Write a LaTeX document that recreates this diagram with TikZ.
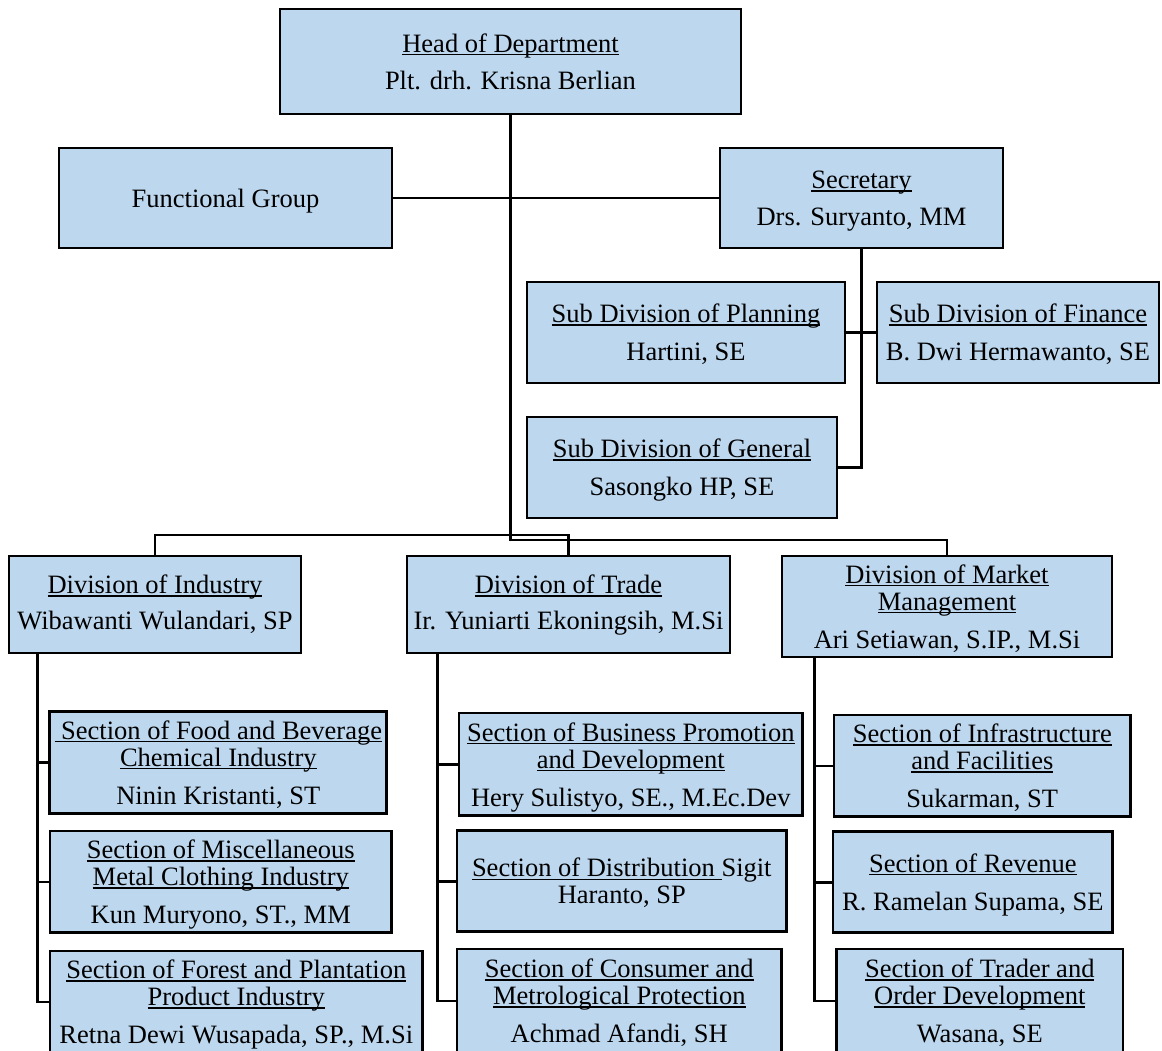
\documentclass[tikz,border=0pt]{standalone}
\usepackage{fontspec}
\setmainfont{Liberation Serif}
\newsavebox\ulbox
\newcommand\myul[1]{\sbox\ulbox{#1}\rlap{\rule[-3pt]{\wd\ulbox}{1.3pt}}\usebox\ulbox}
\newcommand\mystrut{\rule{0pt}{25pt}}
\newcommand\mydeep{\rule[-11pt]{0pt}{0pt}}
\definecolor{boxblue}{HTML}{BDD7EE}
\begin{document}
\begin{tikzpicture}[x=1pt,y=-1pt,
  box/.style={draw=black, line width=2.8pt, fill=boxblue, align=center, inner sep=1pt,
              font=\fontsize{26.5}{27}\selectfont,
              execute at end node={\rule[-6.5pt]{0pt}{0pt}}},
  sz/.style 2 args={minimum width=#1pt, minimum height=#2pt},
  link/.style={draw=black, line width=2.6pt}]
\useasboundingbox (0,0) rectangle (1162,1050);
\begin{scope}
\clip (0,0) rectangle (1162,1050);
% top level
\node[box, sz={461}{105}] (head) at (510.5,61.5) {\mystrut\myul{Head of Department}\\[10pt] Plt. drh. Krisna Berlian};
\node[box, sz={333}{100}] (fg) at (225.5,198) {\mystrut Functional Group};
\node[box, sz={283}{100}] (sec) at (861.5,198) {\mystrut\myul{Secretary}\\[10pt] Drs. Suryanto, MM};
% sub divisions
\node[box, sz={318}{101}] (plan) at (686,332.5) {\mystrut\myul{Sub Division of Planning}\\[11pt] Hartini, SE};
\node[box, sz={282}{101}] (fin) at (1018,332.5) {\mystrut\myul{Sub Division of Finance}\\[11pt] B. Dwi Hermawanto, SE};
\node[box, sz={310}{101}] (gen) at (682,467.5) {\mystrut\myul{Sub Division of General}\\[11pt] Sasongko HP, SE};
% divisions
\node[box, sz={292}{97}] (ind) at (155,604.5) {\mystrut\myul{Division of Industry}\\[9pt] Wibawanti Wulandari, SP\mydeep};
\node[box, sz={323}{97}] (trade) at (568.5,604.5) {\mystrut\myul{Division of Trade}\\[9pt] Ir. Yuniarti Ekoningsih, M.Si\mydeep};
\node[box, sz={330}{101}] (mkt) at (947,606.5) {\mystrut\myul{Division of Market}\\ \myul{Management}\\[11pt] Ari Setiawan, S.IP., M.Si};
% sections of industry
\node[box, sz={337}{101.6}] (food) at (218.3,762.5) {\mystrut\myul{\ Section of Food and Beverage}\\ \myul{Chemical Industry}\\[11pt] Ninin Kristanti, ST};
\node[box, sz={341.7}{101.7}] (misc) at (220.8,881.8) {\mystrut\myul{Section of Miscellaneous}\\ \myul{Metal Clothing Industry}\\[11pt] Kun Muryono, ST., MM};
\node[box, sz={372.7}{102}] (forest) at (236.3,1002) {\mystrut\myul{Section of Forest and Plantation}\\ \myul{Product Industry}\\[11pt] Retna Dewi Wusapada, SP., M.Si};
% sections of trade
\node[box, sz={343.7}{102.7}] (bus) at (630.8,764.3) {\mystrut\myul{Section of Business Promotion}\\ \myul{and Development}\\[11pt] Hery Sulistyo, SE., M.Ec.Dev};
\node[box, sz={329.7}{101}] (dist) at (621.8,881.2) {\mystrut\myul{Section of Distribution\ }Sigit\\ Haranto, SP};
\node[box, sz={324.7}{104}] (cons) at (619.3,1001) {\mystrut\myul{Section of Consumer and}\\ \myul{Metrological Protection}\\[11pt] Achmad Afandi, SH};
% sections of market management
\node[box, sz={296.7}{101.7}] (infra) at (982.3,765.8) {\mystrut\myul{Section of Infrastructure}\\ \myul{and Facilities}\\[11pt] Sukarman, ST};
\node[box, sz={279.7}{101}] (rev) at (972.8,882.2) {\mystrut\myul{Section of Revenue}\\[11pt] R. Ramelan Supama, SE};
\node[box, sz={286.3}{104}] (trader) at (979.8,1001) {\mystrut\myul{Section of Trader and}\\ \myul{Order Development}\\[11pt] Wasana, SE};
% junction coordinates
\coordinate (hj) at (head.south |- 0,540);
\coordinate (dj) at (ind.north |- 0,535);
\coordinate (indbus) at ([xshift=30pt]ind.south west);
\coordinate (trbus) at ([xshift=32pt]trade.south west);
\coordinate (mkbus) at ([xshift=34pt]mkt.south west);
% connectors
\draw[link] (head.south) -- (hj) -| (mkt.north);
\draw[link] (ind.north) -- (dj) -| (trade.north);
\draw[link] (fg.east) -- (sec.west);
\draw[link] (sec.south) |- (gen.east);
\draw[link] (plan.east) -- (fin.west);
\draw[link] (indbus) |- (food.west);
\draw[link] (indbus) |- (misc.west);
\draw[link] (indbus) |- (forest.west);
\draw[link] (trbus) |- (bus.west);
\draw[link] (trbus) |- (dist.west);
\draw[link] (trbus) |- (cons.west);
\draw[link] (mkbus) |- (infra.west);
\draw[link] (mkbus) |- (rev.west);
\draw[link] (mkbus) |- (trader.west);
\end{scope}
\end{tikzpicture}
\end{document}
